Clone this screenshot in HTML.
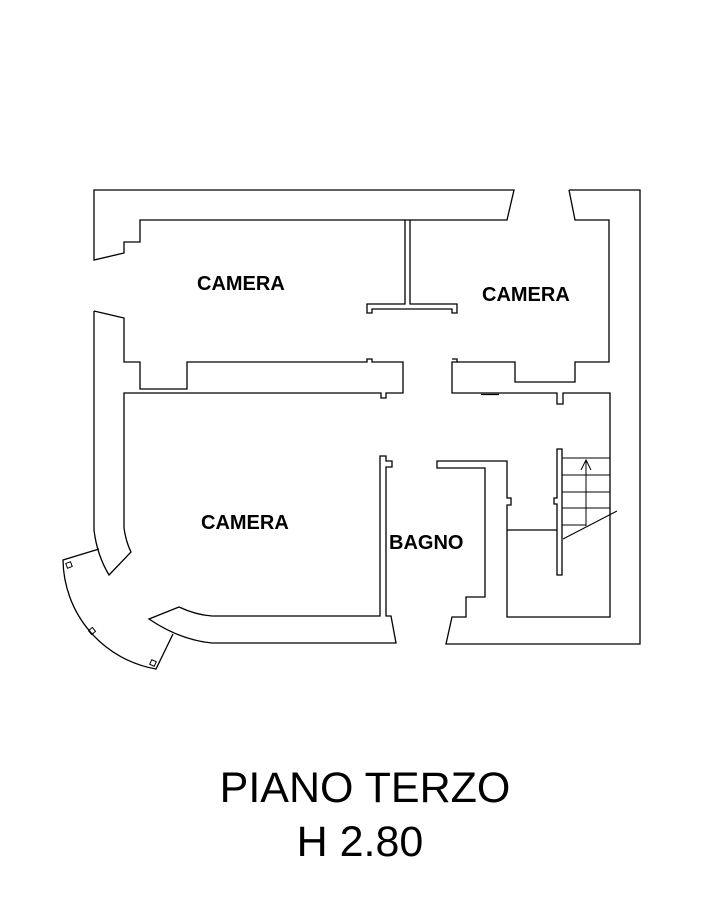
<!DOCTYPE html>
<html><head><meta charset="utf-8"><style>
html,body{margin:0;padding:0;background:#fff;}
svg{display:block;}
text{font-family:"Liberation Sans",Arial,sans-serif;fill:#000;}
</style></head><body>
<svg width="721" height="906" viewBox="0 0 721 906" xmlns="http://www.w3.org/2000/svg">
<g fill="none" stroke="#000" stroke-width="1.3" stroke-linejoin="miter">
<!-- top-left wall -->
<polygon points="94,190 514,190 507,220 140,220 140,242 124,242 124,253 94,260"/>
<!-- T partition -->
<polyline points="405,220 405,304 367,304 367,313 372,313 372,309 452,309 452,313 457,313 457,304 410,304 410,220"/>
<!-- middle wall left -->
<polyline points="94,311 124,318 124,362 140,362 140,389 187,389 187,362 367,362 367,359 372,359 372,362 403,362 403,393 386,393 386,398 381,398 381,393 124,393 124,528"/>
<path d="M124,528 Q126,542 131,552 L109,575 Q97,555 94,530 L94,311"/>
<!-- bay -->
<path d="M99,549 L63,560 A112,112 0 0 0 156,669 L173,634"/>
<!-- bottom wall of lower camera -->
<path d="M149,619 L179,607 Q196,615 212,616 L380,616 L380,456 L386,456 L386,461 L392,461 L392,467 L386,467 L386,616 L391,616 L396,643 L212,643 Q180,640 149,619 Z"/>
<!-- right top -->
<polyline points="569,190 640,190 640,644 446,644 452,617 466,617 466,597 485,597 485,468 437,468 437,461 507,461 507,498 511,498 511,505 507,505 507,617 610,617 610,393 563,393 563,404 557,404 557,393 452,393 452,362 457,362 457,359 452,359"/>
<polyline points="457,362 515,362 515,382 575,382 575,362 609,362 609,220 575,220 569,190"/>
<line x1="481" y1="394.5" x2="499" y2="394.5"/>
<!-- stairs -->
<line x1="507" y1="530" x2="557" y2="530"/>
<polygon points="557,449 562,449 562,575 557,575 557,504 554,504 554,498 557,498"/>
<g stroke-width="1">
<line x1="562" y1="458" x2="610" y2="458"/>
<line x1="562" y1="475" x2="610" y2="475"/>
<line x1="562" y1="492" x2="610" y2="492"/>
<line x1="562" y1="508" x2="610" y2="508"/>
<line x1="562" y1="525" x2="586" y2="525"/>
<line x1="586" y1="526" x2="586" y2="460"/>
<polyline points="581,470 586,460 591,470"/>
<line x1="563" y1="539" x2="617" y2="511"/>
</g>
<g stroke-width="1">
<rect x="66.5" y="562.5" width="5" height="5" transform="rotate(-20 69 565)"/>
<rect x="89.5" y="628.5" width="5" height="5" transform="rotate(-40 92 631)"/>
<rect x="150.5" y="660.5" width="5" height="5" transform="rotate(-65 153 663)"/>
</g>
</g>
<text x="197" y="290" font-size="20" font-weight="bold">CAMERA</text>
<text x="482" y="301" font-size="20" font-weight="bold">CAMERA</text>
<text x="201" y="529" font-size="20" font-weight="bold">CAMERA</text>
<text x="389" y="549" font-size="20" font-weight="bold">BAGNO</text>
<text x="365" y="802" font-size="43" text-anchor="middle">PIANO TERZO</text>
<text x="360" y="856" font-size="43" text-anchor="middle">H 2.80</text>
</svg>
</body></html>
